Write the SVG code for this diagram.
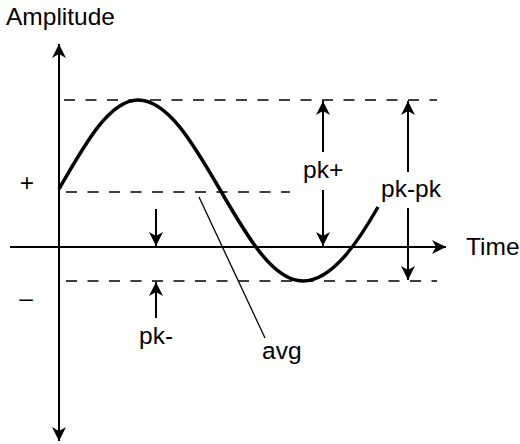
<svg xmlns="http://www.w3.org/2000/svg" width="520" height="444" viewBox="0 0 520 444">
<style>
  text { font-family: "Liberation Sans", Arial, sans-serif; font-size: 24.5px; fill: #000; }
  .axis { stroke: #000; stroke-width: 2; fill: none; }
  .dash { stroke: #000; stroke-width: 1.6; stroke-dasharray: 11 10.5; fill: none; }
  .arr { stroke: #000; stroke-width: 2; fill: none; }
  .wave { stroke: #000; stroke-width: 3.5; fill: none; stroke-linejoin: round; }
  .lead { stroke: #000; stroke-width: 1.3; fill: none; }
</style>
<defs>
  <marker id="ah" markerUnits="userSpaceOnUse" markerWidth="16" markerHeight="16" viewBox="-15 -8 16 16" refX="0" refY="0" orient="auto-start-reverse">
    <path d="M0,0 L-14,-7 L-10,0 L-14,7 Z" fill="#000"/>
  </marker>
</defs>
<g id="axes">
  <line class="axis" x1="59" y1="44" x2="59" y2="441" marker-start="url(#ah)" marker-end="url(#ah)"/>
  <line class="axis" x1="10" y1="247" x2="446" y2="247" marker-end="url(#ah)"/>
</g>
<g id="levels">
  <line class="dash" x1="64" y1="100" x2="437" y2="100"/>
  <line class="dash" x1="66" y1="192" x2="290" y2="192"/>
  <line class="dash" x1="66" y1="281" x2="437" y2="281"/>
</g>
<g id="waveform">
  <path class="wave" d="M59,189 C84.8,144 109.4,100 138,100 C167.9,100 193.6,144 220.5,190.5 C247.4,237 273.1,281 303,281 C332,281 358,242 378,207"/>
</g>
<g id="connectors">
  <line class="arr" x1="323" y1="152" x2="323" y2="101" marker-end="url(#ah)"/>
  <line class="arr" x1="323" y1="190" x2="323" y2="246" marker-end="url(#ah)"/>
  <line class="arr" x1="408" y1="172" x2="408" y2="101" marker-end="url(#ah)"/>
  <line class="arr" x1="408" y1="208" x2="408" y2="280" marker-end="url(#ah)"/>
  <line class="arr" x1="156" y1="209" x2="156" y2="246" marker-end="url(#ah)"/>
  <line class="arr" x1="156" y1="318" x2="156" y2="282" marker-end="url(#ah)"/>
  <line class="lead" x1="199" y1="197" x2="265" y2="338"/>
</g>
<g id="labels">
  <text x="6" y="25">Amplitude</text>
  <text x="466" y="255">Time</text>
  <text x="303" y="178">pk+</text>
  <text x="381" y="197">pk-pk</text>
  <text x="139" y="344">pk-</text>
  <text x="262" y="359">avg</text>
  <text x="27" y="191" text-anchor="middle">+</text>
  <text x="26" y="306" text-anchor="middle">–</text>
</g>
</svg>
